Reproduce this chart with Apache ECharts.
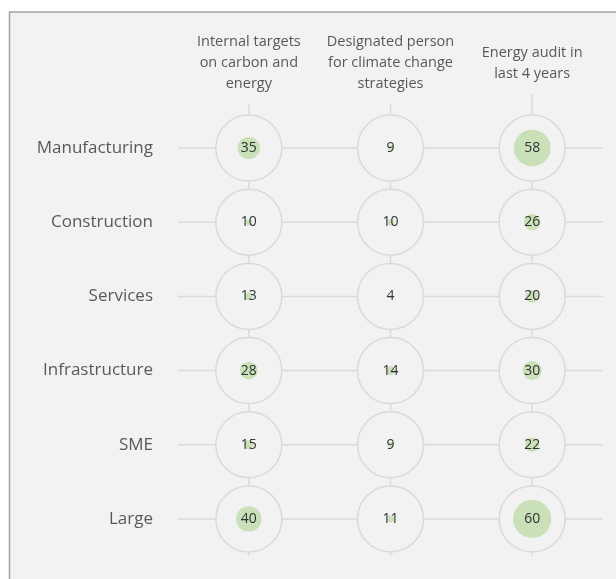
<!DOCTYPE html>
<html>
<head>
<meta charset="utf-8">
<script src="https://cdn.jsdelivr.net/npm/echarts@6/dist/echarts.min.js"></script>
<style>
html,body{margin:0;padding:0;background:#fff;}
#chart{width:616px;height:579px;}
</style>
</head>
<body>
<div id="chart"></div>
<script>
// ---- data ----
var columns = [
  'Internal targets\non carbon and\nenergy',
  'Designated person\nfor climate change\nstrategies',
  'Energy audit in\nlast 4 years'
];
var rows = ['Manufacturing', 'Construction', 'Services', 'Infrastructure', 'SME', 'Large'];
var internalTargets = [35, 10, 13, 28, 15, 40];
var designatedPerson = [9, 10, 4, 14, 9, 11];
var energyAudit = [58, 26, 20, 30, 22, 60];

// ---- build ----
var seriesValues = [internalTargets, designatedPerson, energyAudit];
var points = [];
seriesValues.forEach(function (vals, c) {
  vals.forEach(function (v, r) { points.push([c, r, v]); });
});

var FONT = 'Open Sans';
var HEADER_CENTER_OFFSET = 48;
var HEADER_LH = 21;
var LINE_COLOR = '#dadada';

var chart = echarts.init(document.getElementById('chart'));
chart.setOption({
  backgroundColor: '#ffffff',
  animation: false,
  graphic: [{
    type: 'rect',
    z: -10,
    silent: true,
    shape: { x: 9.5, y: 12, width: 700, height: 700 },
    style: { fill: '#f2f2f2', stroke: '#a3a3a3', lineWidth: 1.5 }
  }],
  grid: { left: 178, right: 13, top: 111, bottom: 23 },
  xAxis: {
    type: 'category',
    position: 'top',
    data: columns,
    boundaryGap: true,
    axisLine: { show: false },
    axisTick: { show: false },
    splitLine: { show: false },
    axisLabel: {
      interval: 0,
      margin: HEADER_CENTER_OFFSET,
      verticalAlign: 'middle',
      align: 'center',
      lineHeight: HEADER_LH,
      fontFamily: FONT,
      fontSize: 14.5,
      color: '#595959'
    }
  },
  yAxis: {
    type: 'category',
    inverse: true,
    data: rows,
    boundaryGap: true,
    axisLine: { show: false },
    axisTick: { show: false },
    splitLine: { show: false },
    axisLabel: {
      margin: 25,
      fontFamily: FONT,
      fontSize: 17,
      color: '#595959'
    }
  },
  series: [
    {
      type: 'custom',
      silent: true,
      z: 1,
      data: rows.map(function (r, i) { return [0, i]; }),
      renderItem: function (params, api) {
        var cs = params.coordSys;
        var y = api.coord([0, api.value(1)])[1];
        return {
          type: 'line',
          shape: { x1: cs.x, y1: y, x2: cs.x + cs.width, y2: y },
          style: { stroke: LINE_COLOR, lineWidth: 1.5 }
        };
      }
    },
    {
      type: 'custom',
      silent: true,
      z: 1,
      data: columns.map(function (c, i) { return [i, 0]; }),
      renderItem: function (params, api) {
        var cs = params.coordSys;
        var idx = params.dataIndex;
        var x = api.coord([api.value(0), 0])[0];
        var nLines = columns[idx].split('\n').length;
        var top = cs.y - HEADER_CENTER_OFFSET + nLines * HEADER_LH / 2 + 10;
        return {
          type: 'line',
          shape: { x1: x, y1: top, x2: x, y2: cs.y + cs.height },
          style: { stroke: LINE_COLOR, lineWidth: 1.5 }
        };
      }
    },
    {
      type: 'scatter',
      silent: true,
      z: 2,
      data: points,
      symbol: 'circle',
      symbolSize: 66,
      itemStyle: { color: '#f2f2f2', borderColor: '#dadada', borderWidth: 1.5, opacity: 1 }
    },
    {
      type: 'scatter',
      silent: true,
      z: 3,
      data: points,
      symbol: 'circle',
      symbolSize: function (v) { return v[2] * 0.635; },
      itemStyle: { color: '#c9e0b9', opacity: 1 },
      label: {
        show: true,
        position: 'inside',
        formatter: function (p) { return String(p.value[2]); },
        fontFamily: FONT,
        fontSize: 14,
        color: '#333333'
      },
      labelLayout: { hideOverlap: false }
    }
  ]
});
</script>
</body>
</html>
